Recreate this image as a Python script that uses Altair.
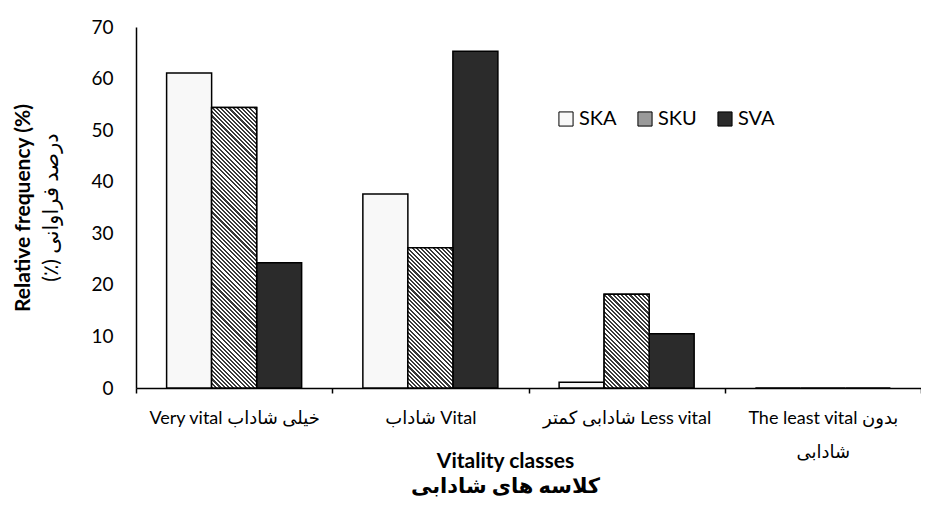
import altair as alt
import pandas as pd

# ---------------- data ----------------
categories = [
    "Very vital  خیلی شاداب",
    "شاداب Vital",
    "شادابی کمتر  Less vital",
    "The least vital  بدون\nشادابی",
]
series = ["SKA", "SKU", "SVA"]
ska = [61.1, 37.6, 1.1, 0.0]
sku = [54.4, 27.2, 18.2, 0.0]
sva = [24.3, 65.3, 10.5, 0.0]
y_ticks = [0, 10, 20, 30, 40, 50, 60, 70]
series_colors = ["#f8f8f8", "#9a9a9a", "#2b2b2b"]
x_title = ["Vitality classes", "کلاسه های شادابی"]
y_title = "Relative frequency (%)"
y_title_fa = "درصد فراوانی (٪)\u200f"

rows = []
for i, c in enumerate(categories):
    for s, vals in zip(series, [ska, sku, sva]):
        rows.append({"idx": i, "cat": c, "series": s, "value": vals[i]})
df = pd.DataFrame(rows)

# ---------------- layout ----------------
W, H = 785, 361
FONT = "Lato, DejaVu Sans"
XO_PAD = 0.68
step_x = W / len(categories)
bar_w = step_x / (len(series) + 2 * XO_PAD)

x_enc = alt.X(
    "cat:N",
    sort=categories,
    scale=alt.Scale(paddingInner=0, paddingOuter=0),
    axis=alt.Axis(
        title=x_title,
        labelExpr="split(datum.label, '\\n')",
        labelAngle=0,
        labelFont=FONT,
        labelFontSize=18,
        labelColor="black",
        labelPadding=16,
        labelLineHeight=34,
        labelBaseline="top",
        tickBand="extent",
        ticks=True,
        tickSize=5,
        tickColor="black",
        tickWidth=1.5,
        domainColor="black",
        domainWidth=1.5,
        grid=False,
        titleFont=FONT,
        titleFontSize=21,
        titleFontWeight="bold",
        titleColor="black",
        titleX=369,
        titleY=62,
        titleAlign="center",
        titleBaseline="top",
        titleLineHeight=25,
    ),
)
xo_enc = alt.XOffset("series:N", sort=series,
                     scale=alt.Scale(paddingInner=0, paddingOuter=XO_PAD))
y_enc = alt.Y(
    "value:Q",
    scale=alt.Scale(domain=[0, 70], nice=False),
    axis=alt.Axis(
        values=y_ticks,
        title=y_title,
        titleFont=FONT,
        titleFontSize=21,
        titleFontWeight="bold",
        titleColor="black",
        titleX=-113,
        titleY=H / 2,
        titleAlign="center",
        titleBaseline="middle",
        labelFont=FONT,
        labelFontSize=19,
        labelColor="black",
        labelPadding=23,
        ticks=False,
        tickSize=0,
        domainColor="black",
        domainWidth=1.5,
        grid=False,
    ),
)

base = alt.Chart(df)
bars = base.mark_bar(stroke="black", strokeWidth=1.5).encode(
    x=x_enc,
    xOffset=xo_enc,
    y=y_enc,
    fill=alt.Fill(
        "series:N",
        scale=alt.Scale(domain=series, range=series_colors),
        legend=alt.Legend(
            orient="none",
            legendX=420,
            legendY=82,
            direction="horizontal",
            title=None,
            symbolType="square",
            symbolSize=200,
            symbolStrokeColor="black",
            symbolStrokeWidth=1,
            labelFont=FONT,
            labelFontSize=20,
            labelColor="black",
            labelOffset=3,
            columnPadding=18,
        ),
    ),
)


def stripe_gradient(value, period=4.2, duty=0.5):
    h = value * H / 70.0
    w = bar_w
    k = (w + h) / (w * w + h * h)
    n = max(1, round((w + h) / period))
    stops = []
    for j in range(n):
        a = j / n
        b = (j + duty) / n
        c = (j + 1) / n
        stops += [
            {"offset": a, "color": "#3a3a3a"},
            {"offset": b, "color": "#3a3a3a"},
            {"offset": b, "color": "#ffffff"},
            {"offset": c, "color": "#ffffff"},
        ]
    return {"gradient": "linear", "x1": 0, "y1": 1, "x2": k * w, "y2": 1 - k * h,
            "stops": stops}


layers = [bars]
for i, v in enumerate(sku):
    if v <= 0:
        continue
    layers.append(
        base.transform_filter((alt.datum.idx == i) & (alt.datum.series == "SKU"))
        .mark_bar(fill=stripe_gradient(v), stroke="black", strokeWidth=1.5)
        .encode(x=x_enc, xOffset=xo_enc, y=y_enc)
    )

fa_title = alt.Chart(pd.DataFrame({"t": [y_title_fa]})).mark_text(
    angle=270, font=FONT, fontSize=21, color="black", align="center", baseline="middle"
).encode(x=alt.value(-84), y=alt.value(H / 2), text="t:N")
layers.append(fa_title)

chart = (
    alt.layer(*layers)
    .properties(
        width=W,
        height=H,
        padding={"left": 128, "top": 19, "right": 0, "bottom": 114},
        autosize=alt.AutoSizeParams(type="none"),
        background="white",
    )
    .configure_view(stroke=None)
)

chart.save("out.html", embed_options={"renderer": "svg", "actions": False})
